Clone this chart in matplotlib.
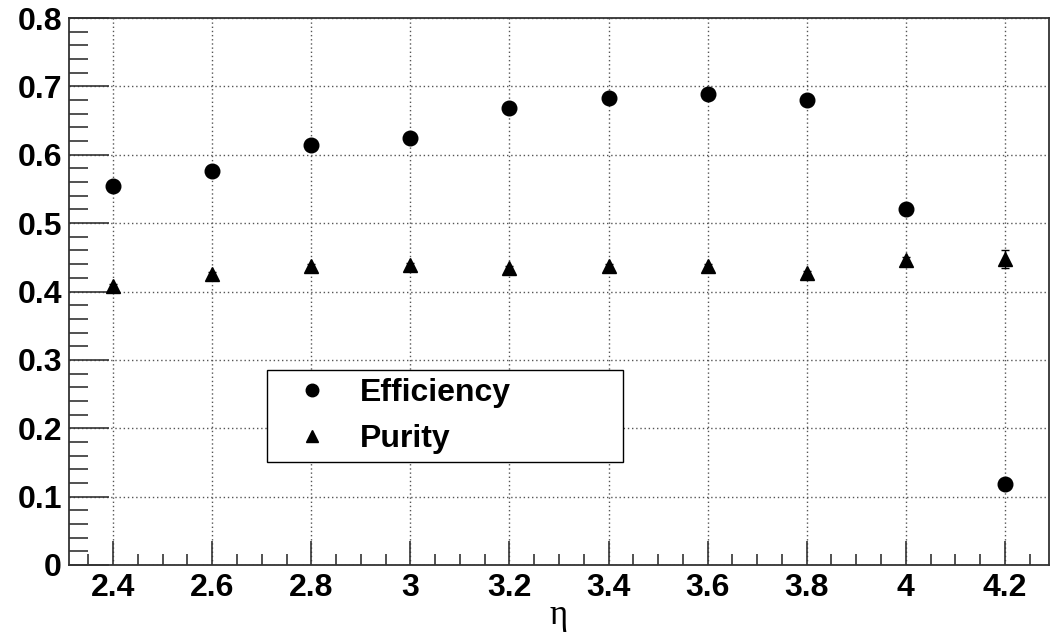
import matplotlib
matplotlib.use("Agg")
import matplotlib.pyplot as plt
from matplotlib.ticker import MultipleLocator, FixedLocator

# ---- data ----
eta = [2.4, 2.6, 2.8, 3.0, 3.2, 3.4, 3.6, 3.8, 4.0, 4.2]
efficiency = [0.555, 0.576, 0.614, 0.624, 0.668, 0.683, 0.689, 0.680, 0.521, 0.119]
efficiency_err = [0.005, 0.005, 0.005, 0.005, 0.005, 0.005, 0.005, 0.005, 0.006, 0.006]
purity = [0.408, 0.425, 0.437, 0.439, 0.435, 0.437, 0.437, 0.427, 0.446, 0.447]
purity_err = [0.003, 0.003, 0.003, 0.003, 0.003, 0.003, 0.003, 0.003, 0.004, 0.013]

xticks = [2.4, 2.6, 2.8, 3.0, 3.2, 3.4, 3.6, 3.8, 4.0, 4.2]
xtick_labels = ["2.4", "2.6", "2.8", "3", "3.2", "3.4", "3.6", "3.8", "4", "4.2"]
yticks = [0, 0.1, 0.2, 0.3, 0.4, 0.5, 0.6, 0.7, 0.8]
ytick_labels = ["0", "0.1", "0.2", "0.3", "0.4", "0.5", "0.6", "0.7", "0.8"]
series_labels = ["Efficiency", "Purity"]
xlabel = "η"

plt.rcParams['font.family'] = ['Liberation Sans', 'DejaVu Sans']

fig = plt.figure(figsize=(10.5, 6.34), dpi=100)
ax = fig.add_axes([69/1050, 69/634, 980/1050, 547/634])

ax.set_xlim(2.311, 4.289)
ax.set_ylim(0, 0.8)

# error bars (no legend entry)
ax.errorbar(eta, efficiency, yerr=efficiency_err, fmt='none', ecolor='black',
            elinewidth=1, capsize=0, zorder=3)
ax.errorbar(eta, purity, yerr=purity_err, fmt='none', ecolor='black',
            elinewidth=1, capsize=3, capthick=1, zorder=3)
# markers
ax.plot(eta, efficiency, 'o', color='black', markersize=10.5, linestyle='none',
        label=series_labels[0], zorder=4)
ax.plot(eta, purity, '^', color='black', markersize=9.5, linestyle='none',
        label=series_labels[1], zorder=4)

ax.xaxis.set_major_locator(FixedLocator(xticks))
ax.set_xticklabels(xtick_labels)
ax.xaxis.set_minor_locator(MultipleLocator(0.05))
ax.yaxis.set_major_locator(FixedLocator(yticks))
ax.set_yticklabels(ytick_labels)
ax.yaxis.set_minor_locator(MultipleLocator(0.02))

for lab in ax.get_xticklabels() + ax.get_yticklabels():
    lab.set_fontweight('bold')
    lab.set_fontsize(23)

ax.tick_params(axis='x', which='major', direction='in', length=17, width=1.2,
               color='#333333', pad=6, top=False)
ax.tick_params(axis='x', which='minor', direction='in', length=8, width=1.2,
               color='#333333', top=False)
ax.tick_params(axis='y', which='major', direction='in', length=29, width=1.2,
               color='#333333', pad=5, right=False)
ax.tick_params(axis='y', which='minor', direction='in', length=14, width=1.2,
               color='#333333', right=False)

for s in ax.spines.values():
    s.set_color('#333333')
    s.set_linewidth(1.3)

ax.grid(True, which='major', linestyle=(0, (1, 2)), color='#555555', linewidth=1.0)
ax.set_axisbelow(True)

xl = ax.set_xlabel(xlabel, fontsize=25, family=['Liberation Serif', 'DejaVu Serif'])
xl.set_verticalalignment('baseline')
ax.xaxis.set_label_coords(0.5, -0.108)

leg = ax.legend(loc='center', bbox_to_anchor=(0.202, 0.186, 0.363, 0.172), mode='expand',
                frameon=True, fancybox=False, shadow=False, framealpha=1,
                edgecolor='black', prop={'weight': 'bold', 'size': 23},
                handlelength=2.3, handletextpad=0.35, borderpad=0.25, labelspacing=0.5,
                borderaxespad=0, numpoints=1)
leg.get_frame().set_linewidth(1.0)
for h in leg.legend_handles:
    h.set_markersize(9)

fig.savefig("out.png", dpi=100)
